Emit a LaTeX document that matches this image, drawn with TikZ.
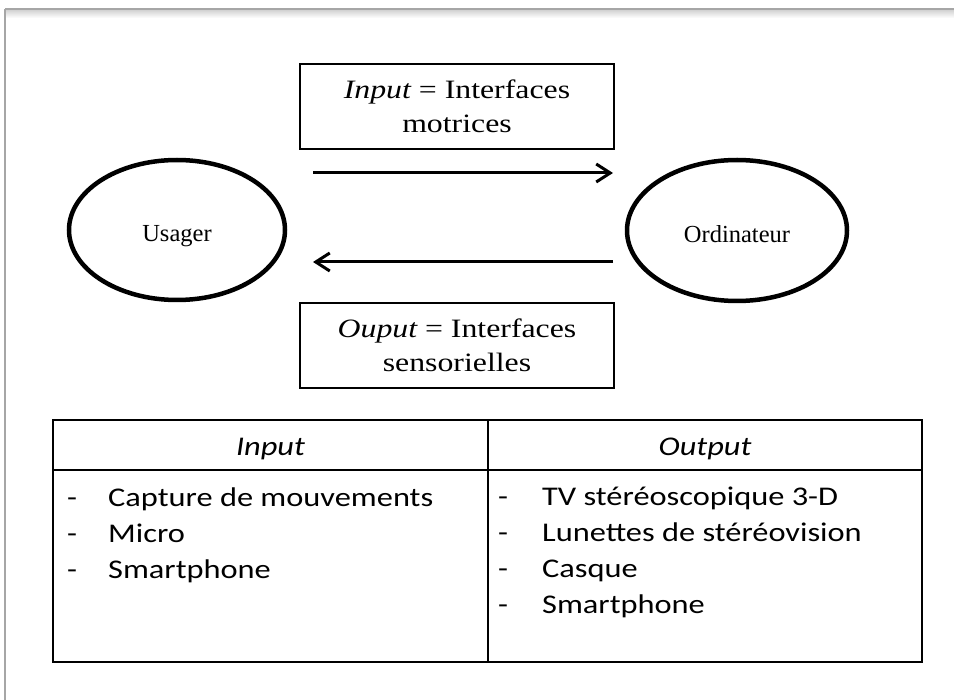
\documentclass[tikz,border=0pt]{standalone}
\usepackage{fontspec}
\setmainfont{Liberation Serif}
\newfontfamily\boxfont[FakeStretch=1.2]{Liberation Serif}
\newfontfamily\tablefont[FakeStretch=1.2]{Carlito}
\usetikzlibrary{shapes.geometric,arrows.meta}

\begin{document}
\begin{tikzpicture}[x=1pt, y=-1pt,
    party/.style={ellipse, draw, line width=4.5pt, text height=24pt, text depth=0pt, font=\fontsize{24.5}{28}\selectfont},
    iface/.style={draw, line width=1.2pt, minimum width=314pt, minimum height=85pt, align=center, font=\boxfont\fontsize{26.5}{34.5}\selectfont},
    flow/.style={line width=3pt, -{Straight Barb[length=14pt,width=18pt]}},
    colhead/.style={font=\tablefont\itshape\fontsize{27}{32}\selectfont},
    itemlist/.style={anchor=north west, inner sep=0pt, font=\tablefont\fontsize{27}{36}\selectfont}]
    \useasboundingbox (0,0) rectangle (954,700);
    % page frame
    \shade[top color=gray!35, bottom color=white] (5,10) rectangle (954,18);
    \draw[gray!70, line width=2pt] (5,9) -- (954,9);
    \draw[gray!70, line width=1.2pt] (5,9) -- (5,700);
    % user and computer
    \node[party, minimum width=216pt, minimum height=140pt] (usager) at (177,230) {Usager};
    \node[party, minimum width=220pt, minimum height=141pt] (ordi) at (737,230.5) {Ordinateur};
    \node[iface] (motrices) at (457,106.5) {{\itshape Input} = Interfaces\\motrices};
    \node[iface] (sensor) at (457,345.5) {{\itshape Ouput} = Interfaces\\sensorielles};
    \coordinate (in-a) at (313,173);
    \coordinate (in-b) at (613,173);
    \coordinate (out-a) at (613,262);
    \coordinate (out-b) at (313,262);
    \draw[flow] (in-a) -- (in-b);
    \draw[flow] (out-a) -- (out-b);
    % table
    \draw[line width=1.5pt] (53,420) rectangle (922,662);
    \draw[line width=1.5pt] (53,470) -- (922,470);
    \draw[line width=1.5pt] (488,420) -- (488,662);
    \node[colhead] (inhead) at (270.5,449) {Input};
    \node[colhead] (outhead) at (705,449) {Output};
    \node[itemlist] (inlist) at (67,481) {\begin{tabular}{@{}p{41pt}@{}l@{}}
        - & Capture de mouvements\\
        - & Micro\\
        - & Smartphone
    \end{tabular}};
    \node[itemlist] (outlist) at (498,480) {\begin{tabular}{@{}p{44pt}@{}l@{}}
        - & TV stéréoscopique 3-D\\
        - & Lunettes de stéréovision\\
        - & Casque\\
        - & Smartphone
    \end{tabular}};
\end{tikzpicture}
\end{document}
